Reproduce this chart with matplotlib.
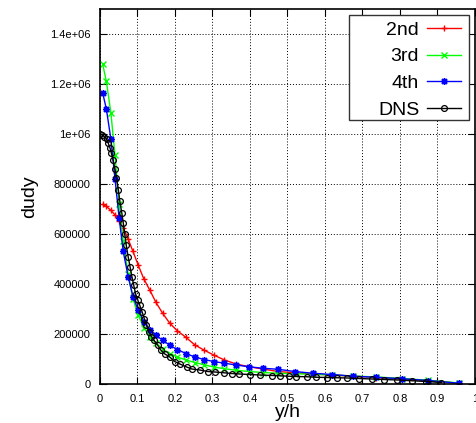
import matplotlib
matplotlib.use("Agg")
import matplotlib.pyplot as plt
from matplotlib.patches import Rectangle
from matplotlib.ticker import FixedLocator

plt.rcParams["font.family"] = ["Liberation Sans", "DejaVu Sans"]

# malla LES (comun a 2nd/3rd/4th)
y_les = [0.007, 0.017, 0.029, 0.040, 0.051, 0.062, 0.075, 0.088, 0.102, 0.117,
         0.133, 0.149, 0.167, 0.186, 0.206, 0.229, 0.253, 0.277, 0.303, 0.332,
         0.363, 0.397, 0.434, 0.474, 0.519, 0.567, 0.619, 0.676, 0.737, 0.805,
         0.876, 0.957]

dudy_2nd = [718e3, 710e3, 695e3, 676e3, 650e3, 625e3, 580e3, 530e3, 475e3, 420e3,
            375e3, 327e3, 283e3, 243e3, 213e3, 187e3, 156e3, 136e3, 116e3, 96e3,
            80e3, 69e3, 60e3, 50e3, 45e3, 40e3, 36e3, 31e3, 26e3, 20e3,
            13e3, 3e3]

dudy_3rd = [1280e3, 1210e3, 1085e3, 915e3, 720e3, 570e3, 440e3, 340e3, 275e3, 225e3,
            190e3, 163e3, 140e3, 122e3, 108e3, 96e3, 86e3, 77e3, 68e3, 61e3,
            55e3, 50e3, 46e3, 43e3, 41e3, 39e3, 36e3, 32e3, 28e3, 22e3,
            15e3, 4e3]

dudy_4th = [1165e3, 1100e3, 980e3, 820e3, 665e3, 530e3, 430e3, 350e3, 295e3, 250e3,
            218e3, 195e3, 175e3, 155e3, 138e3, 122e3, 108e3, 98e3, 90e3, 83e3,
            76e3, 69e3, 63e3, 59e3, 50e3, 43e3, 38e3, 31e3, 27e3, 21e3,
            14e3, 3e3]

# DNS
y_dns = [0.000, 0.006, 0.012, 0.018, 0.022, 0.027, 0.030, 0.035, 0.040, 0.044,
         0.049, 0.053, 0.058, 0.062, 0.066, 0.070, 0.075, 0.080, 0.085, 0.090,
         0.095, 0.101, 0.106, 0.112, 0.118, 0.124, 0.130, 0.137, 0.144, 0.154,
         0.162, 0.173, 0.186, 0.199, 0.213, 0.231, 0.245, 0.266, 0.287, 0.306,
         0.330, 0.351, 0.372, 0.399, 0.426, 0.460, 0.479, 0.503, 0.524, 0.551,
         0.577, 0.606, 0.633, 0.660, 0.690, 0.726, 0.758, 0.793, 0.832, 0.870,
         0.910]

dudy_dns = [1000e3, 996e3, 989e3, 979e3, 963e3, 943e3, 925e3, 896e3, 859e3, 823e3,
            776e3, 730e3, 685e3, 645e3, 600e3, 555e3, 510e3, 470e3, 430e3, 395e3,
            360e3, 335e3, 315e3, 290e3, 262e3, 235e3, 210e3, 190e3, 175e3, 155e3,
            136e3, 120e3, 108e3, 90e3, 80e3, 68e3, 60e3, 56e3, 50e3, 48e3,
            45e3, 42e3, 40e3, 38e3, 36e3, 34e3, 33e3, 31e3, 30e3, 29e3,
            27e3, 26e3, 25e3, 24e3, 22e3, 20e3, 18e3, 16e3, 13e3, 10e3,
            6e3]

xticks = [0, 0.1, 0.2, 0.3, 0.4, 0.5, 0.6, 0.7, 0.8, 0.9, 1]
xticklabels = ["0", "0.1", "0.2", "0.3", "0.4", "0.5", "0.6", "0.7", "0.8", "0.9", "1"]
yticks = [0, 200000, 400000, 600000, 800000, 1000000, 1200000, 1400000]
yticklabels = ["0", "200000", "400000", "600000", "800000", "1e+06", "1.2e+06", "1.4e+06"]

fig = plt.figure(figsize=(4.77, 4.23), dpi=100)
ax = fig.add_axes([100 / 477, 39 / 423, 375 / 477, 375 / 423])

ax.plot(y_les, dudy_2nd, color="#ff0000", lw=1, marker="+", ms=5, mew=1, label="2nd")
ax.plot(y_les, dudy_3rd, color="#00ff00", lw=1, marker="x", ms=4, mew=1, label="3rd")
ax.plot(y_les, dudy_4th, color="#0000ff", lw=1, marker=(8, 2, 0), ms=5, mew=1, label="4th")
ax.plot(y_dns, dudy_dns, color="black", lw=1, marker="o", ms=4.2, mew=0.9,
        mfc="none", label="DNS")

ax.set_xlim(0, 1)
ax.set_ylim(0, 1.5e6)
ax.xaxis.set_major_locator(FixedLocator(xticks))
ax.yaxis.set_major_locator(FixedLocator(yticks))
ax.set_xticklabels(xticklabels, fontsize=8)
ax.set_yticklabels(yticklabels, fontsize=8)
ax.tick_params(direction="in", top=True, right=True, length=5, width=0.8, pad=7)
ax.grid(True, color="black", ls=(0, (1, 2)), lw=0.7)
for s in ax.spines.values():
    s.set_linewidth(1.2)

ax.set_xlabel("y/h", fontsize=14, labelpad=0)
ax.set_ylabel("dudy", fontsize=14, labelpad=8)

# caja de leyenda estilo gnuplot (mas margen a la izquierda)
caja = Rectangle((0.6627, 0.704), 0.32, 0.2813, transform=ax.transAxes,
                 facecolor="white", edgecolor="#333333", lw=1.0, zorder=4.5)
ax.add_patch(caja)
leg = ax.legend(loc="upper right", fontsize=14, markerfirst=False, frameon=False,
                handlelength=1.75, handletextpad=0.4, labelspacing=0.47,
                borderpad=0, borderaxespad=0, bbox_to_anchor=(0.9627, 0.968))
leg.set_zorder(6)

fig.savefig("out.png", dpi=100)
